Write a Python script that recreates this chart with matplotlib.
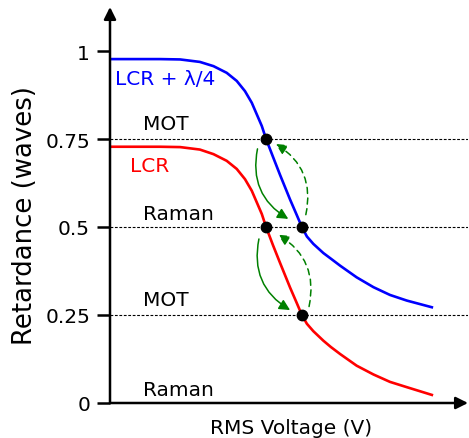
import matplotlib
matplotlib.use('Agg')
import matplotlib.pyplot as plt
import numpy as np

# 曲線データ (RMS電圧, 位相差)
volt = [0.0, 0.84, 1.4, 1.96, 2.51, 2.89, 3.26, 3.54, 3.77, 3.96, 4.1, 4.24, 4.36,
        4.55, 4.75, 5.03, 5.2, 5.36, 5.5, 5.68, 5.96, 6.17, 6.43, 6.89, 7.36, 7.82, 8.29, 8.99]
ret_lcr_qw = [0.977, 0.977, 0.977, 0.976, 0.969, 0.957, 0.938, 0.915, 0.886, 0.853, 0.82,
              0.787, 0.75, 0.70, 0.648, 0.578, 0.538, 0.5, 0.473, 0.452, 0.426, 0.41, 0.39,
              0.357, 0.329, 0.307, 0.291, 0.272]
ret_lcr = [0.728, 0.728, 0.728, 0.727, 0.72, 0.707, 0.688, 0.665, 0.636, 0.603, 0.57,
           0.537, 0.5, 0.449, 0.398, 0.328, 0.288, 0.25, 0.225, 0.204, 0.177, 0.159, 0.139,
           0.106, 0.081, 0.06, 0.045, 0.023]

# 動作点
pts_x = [4.36, 5.36, 4.36, 5.36]
pts_y = [0.75, 0.5, 0.5, 0.25]

# 基準線とラベル
levels = [0.25, 0.5, 0.75]
level_labels = [('MOT', 0.793), ('Raman', 0.537), ('MOT', 0.293), ('Raman', 0.037)]
yticks = [0, 0.25, 0.5, 0.75, 1]
yticklabels = ['0', '0.25', '0.5', '0.75', '1']

# 矢印 (始点, 終点)
solid_arrows = [((4.12, 0.722), (4.98, 0.523)), ((4.16, 0.466), (5.03, 0.264))]
dashed_arrows = [((5.47, 0.535), (4.63, 0.736)), ((5.56, 0.274), (4.70, 0.478))]

xmax = 10.0
ymax = 1.125
fs = 14.5

fig = plt.figure(figsize=(4.69, 4.39), dpi=100)
ax = fig.add_axes([110/469, 35/439, 358/469, 396/439])
ax.set_xlim(0, xmax)
ax.set_ylim(0, ymax)

for lv in levels:
	ax.plot([0, xmax], [lv, lv], color='k', lw=0.8, ls=(0, (2.5, 1.5)), zorder=1)

ax.plot(volt, ret_lcr_qw, color='blue', lw=1.9, zorder=2, solid_joinstyle='round')
ax.plot(volt, ret_lcr, color='red', lw=1.9, zorder=2, solid_joinstyle='round')
ax.plot(pts_x, pts_y, 'o', color='k', ms=7.5, zorder=4)

for (p0, p1) in solid_arrows:
	ax.annotate('', xy=p1, xytext=p0,
		arrowprops=dict(arrowstyle='-|>', color='green', lw=1.1, mutation_scale=16,
			shrinkA=0, shrinkB=0, connectionstyle='arc3,rad=0.35'), zorder=3)
for (p0, p1) in dashed_arrows:
	ax.annotate('', xy=p1, xytext=p0,
		arrowprops=dict(arrowstyle='-|>', color='green', lw=1.1, mutation_scale=16, ls=(0, (4, 3)),
			shrinkA=0, shrinkB=0, connectionstyle='arc3,rad=0.35'), zorder=3)

for txt, yv in level_labels:
	ax.text(0.92, yv, txt, fontsize=fs, ha='left', va='center')

ax.text(0.14, 0.922, 'LCR + λ/4', color='blue', fontsize=fs, ha='left', va='center')
ax.text(0.56, 0.675, 'LCR', color='red', fontsize=fs, ha='left', va='center')

# 軸
for s in ax.spines.values():
	s.set_visible(False)
ax.annotate('', xy=(0, ymax), xytext=(0, 0),
	arrowprops=dict(arrowstyle='-|>', color='k', lw=1.8, mutation_scale=18, shrinkA=0, shrinkB=0),
	annotation_clip=False)
ax.annotate('', xy=(xmax, 0), xytext=(0, 0),
	arrowprops=dict(arrowstyle='-|>', color='k', lw=1.8, mutation_scale=18, shrinkA=0, shrinkB=0),
	annotation_clip=False)

ax.set_xticks([])
ax.set_yticks(yticks)
ax.set_yticklabels(yticklabels, fontsize=fs)
ax.tick_params(axis='y', length=9.4, width=1.8, pad=5)
ax.set_ylabel('Retardance (waves)', fontsize=18.7)
ax.yaxis.set_label_coords(-0.2, 0.477)
ax.set_xlabel('RMS Voltage (V)', fontsize=fs)
ax.xaxis.set_label_coords(0.5056, -0.038)

fig.savefig('out.png', dpi=100)
